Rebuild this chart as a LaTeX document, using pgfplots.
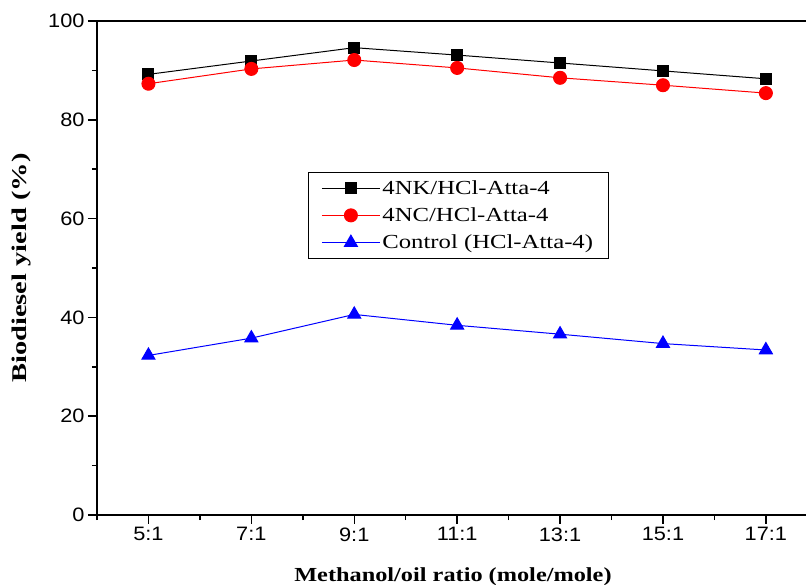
\documentclass[border=0pt]{standalone}
\usepackage{fontspec}
\setmainfont{Liberation Serif}
\setsansfont{Liberation Sans}
\usepackage{pgfplots}
\pgfplotsset{compat=1.18}
\newcommand{\sx}[1]{\scalebox{1.12}[1]{#1}}
\newcommand{\lx}[1]{\scalebox{1.24}[1]{#1}}
\begin{document}
\begin{tikzpicture}
\useasboundingbox (-97bp,-70bp) rectangle (709bp,515bp);
\begin{axis}[
  at={(0,0)}, anchor=south west,
  scale only axis, width=709bp, height=494bp,
  xmin=4, xmax=17.78, ymin=0, ymax=100,
  axis x line*=box, axis y line*=left,
  axis line style={line width=1.8bp},
  xtick pos=bottom, ytick pos=left,
  tick align=outside,
  major tick length=9bp, minor tick length=5bp,
  every tick/.style={line width=1.5bp, black},
  every minor tick/.style={line width=1.5bp, black},
  xtick={5,7,9,11,13,15,17},
  xticklabels={\sx{5:1},\sx{7:1},\sx{9:1},\sx{11:1},\sx{13:1},\sx{15:1},\sx{17:1}},
  minor xtick={4,6,8,10,12,14,16},
  ytick={0,20,40,60,80,100},
  yticklabels={\sx{0},\sx{20},\sx{40},\sx{60},\sx{80},\sx{100}},
  minor ytick={10,30,50,70,90},
  ticklabel style={font=\sffamily\fontsize{19.5}{21}\selectfont},
  xlabel={\scalebox{1.22}[1]{\bfseries Methanol/oil ratio (mole/mole)}},
  ylabel={\scalebox{1.36}[1]{\bfseries Biodiesel yield (\%)}},
  xlabel style={font=\fontsize{20}{22}\selectfont, at={(axis description cs:0.502,-0.1356)}, anchor=base},
  ylabel style={font=\fontsize{21}{23}\selectfont, at={(axis description cs:-0.106,0.5)}, anchor=center},
  legend style={at={(axis description cs:0.2976,0.6943)}, anchor=north west,
    draw=black, line width=0.8bp, font=\fontsize{20}{22}\selectfont,
    inner xsep=13bp, inner ysep=6bp, row sep=8bp},
  legend cell align=left,
  legend image code/.code={\draw[mark repeat=2,mark phase=2,#1] plot coordinates {(0bp,0bp) (29bp,0bp) (58bp,0bp)};},
]
\addplot[black, line width=1bp, mark=square*, mark size=5.5bp, mark options={fill=black}]
  coordinates {(5,89.2) (7,91.9) (9,94.6) (11,93.1) (13,91.5) (15,89.9) (17,88.3)};
\addlegendentry{\lx{4NK/HCl-Atta-4}}
\addplot[red, line width=1bp, mark=*, mark size=6.5bp, mark options={fill=red}]
  coordinates {(5,87.3) (7,90.3) (9,92.1) (11,90.5) (13,88.5) (15,87.0) (17,85.4)};
\addlegendentry{\lx{4NC/HCl-Atta-4}}
\addplot[blue, line width=1bp, mark=triangle*, mark size=7.5bp, mark options={fill=blue}]
  coordinates {(5,32.3) (7,35.8) (9,40.6) (11,38.4) (13,36.6) (15,34.7) (17,33.4)};
\addlegendentry{\lx{Control (HCl-Atta-4)}}
\end{axis}
\end{tikzpicture}
\end{document}
